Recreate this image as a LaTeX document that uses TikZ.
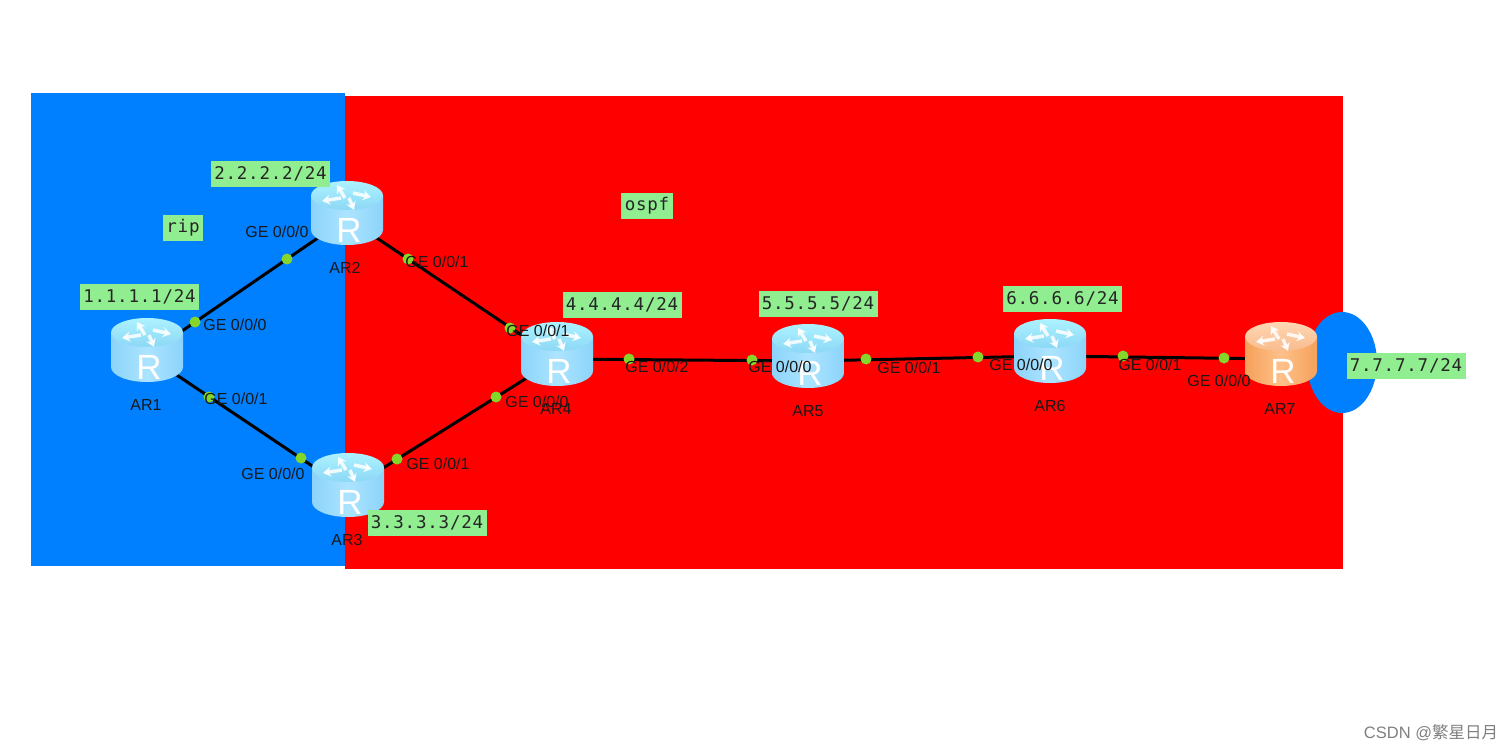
\documentclass[tikz,border=0pt]{standalone}
\usepackage{fontspec}
\setmainfont{Liberation Sans}
\newfontfamily\labelfont[LetterSpace=4.5]{DejaVu Sans Mono}
\newfontfamily\cjkfont{Noto Sans CJK SC}
\usetikzlibrary{arrows.meta}
\definecolor{ripblue}{HTML}{0080FF}
\definecolor{addrgreen}{HTML}{90EE90}
\definecolor{dotgreen}{HTML}{84D62A}
\definecolor{blueside}{HTML}{8CD4FA}
\definecolor{bluemid}{HTML}{ACE4FF}
\definecolor{bluetop}{HTML}{ACF2FF}
\definecolor{bluetopb}{HTML}{8CD8F6}
\definecolor{orangeside}{HTML}{F5A15A}
\definecolor{orangemid}{HTML}{FFC08A}
\definecolor{orangetop}{HTML}{FFD6B4}
\definecolor{orangetopb}{HTML}{F8BC8C}
\tikzset{
  addr/.style={fill=addrgreen,text=black!85,inner sep=0pt,minimum width=119pt,minimum height=26pt,font=\labelfont\fontsize{17.5}{17.5}\selectfont},
  port/.style={fill=dotgreen,circle,inner sep=0pt,minimum size=11pt},
  iface/.style={inner sep=0pt,text=black!90,font=\fontsize{16}{16}\selectfont},
  rname/.style={inner sep=0pt,text=black!90,font=\fontsize{16}{16}\selectfont},
  slot/.style={inner sep=0pt,minimum width=72pt,minimum height=64pt},
  link/.style={draw=black,line width=3pt},
  rarrow/.style={draw=white,opacity=0.85,line width=3.5pt,-{Stealth[length=8pt,width=10pt]}}
}
% icon drawn over the empty slot node: #1 slot, #2 side, #3 middle, #4 top, #5 top shade
\newcommand{\routericon}[5]{
  \begin{scope}[shift={(#1.center)},yshift=5pt]
    \shade[left color=#2,right color=#2,middle color=#3] (-36,-17) -- (-36,17) arc[start angle=180,end angle=0,x radius=36,y radius=15] -- (36,-17) -- cycle;
    \shade[top color=#4,bottom color=#5] (0,-17.5) ellipse[x radius=36,y radius=14.5];
    \draw[rarrow] (-2,-15) -- (-10,-28);
    \draw[rarrow] (6,-20) -- (24,-16);
    \draw[rarrow] (-6,-15) -- (-25,-12);
    \draw[rarrow] (2,-15) -- (7,-3);
    \node[inner sep=0pt,text=white,font=\fontsize{35}{35}\selectfont] at (2,17) {R};
  \end{scope}
}
\begin{document}
\begin{tikzpicture}[x=1pt,y=-1pt]
\useasboundingbox (0,0) rectangle (1511,751);
\fill[white] (0,0) rectangle (1511,751);

% areas
\fill[ripblue] (31,93) rectangle (345,566);
\fill[red] (345,96) rectangle (1343,569);
\fill[ripblue] (1342,362.5) ellipse[x radius=35,y radius=50.5];

\node[slot] (ar1) at (147,355) {};
\node[slot] (ar2) at (347,218) {};
\node[slot] (ar3) at (348,490) {};
\node[slot] (ar4) at (557,359) {};
\node[slot] (ar5) at (808,361) {};
\node[slot] (ar6) at (1050,356) {};
\node[slot] (ar7) at (1281,359) {};

% links
\draw[link] (ar1.center) -- (ar2.center);
\draw[link] (ar1.center) -- (ar3.center);
\draw[link] (ar2.center) -- (ar4.center);
\draw[link] (ar3.center) -- (ar4.center);
\draw[link] (ar4.center) -- (ar5.center);
\draw[link] (ar5.center) -- (ar6.center);
\draw[link] (ar6.center) -- (ar7.center);

\routericon{ar1}{blueside}{bluemid}{bluetop}{bluetopb}
\routericon{ar2}{blueside}{bluemid}{bluetop}{bluetopb}
\routericon{ar3}{blueside}{bluemid}{bluetop}{bluetopb}
\routericon{ar4}{blueside}{bluemid}{bluetop}{bluetopb}
\routericon{ar5}{blueside}{bluemid}{bluetop}{bluetopb}
\routericon{ar6}{blueside}{bluemid}{bluetop}{bluetopb}
\routericon{ar7}{orangeside}{orangemid}{orangetop}{orangetopb}

% ports
\node[port] (p1) at (195,322) {};
\node[port] (p2) at (287,259) {};
\node[port] (p3) at (209,397) {};
\node[port] (p4) at (301,458) {};
\node[port] (p5) at (397,459) {};
\node[port] (p6) at (496,397) {};
\node[port] (p7) at (408,259) {};
\node[port] (p8) at (510,328) {};
\node[port] (p9) at (629,359) {};
\node[port] (p10) at (752,360) {};
\node[port] (p11) at (866,359) {};
\node[port] (p12) at (978,357) {};
\node[port] (p13) at (1123,356) {};
\node[port] (p14) at (1224,358) {};

% interface labels
\node[iface] (i1) at (235,325) {GE 0/0/0};
\node[iface] (i2) at (277,232) {GE 0/0/0};
\node[iface] (i3) at (236,399) {GE 0/0/1};
\node[iface] (i4) at (273,474) {GE 0/0/0};
\node[iface] (i5) at (438,464) {GE 0/0/1};
\node[iface] (i6) at (537,402) {GE 0/0/0};
\node[iface] (i7) at (437,262) {GE 0/0/1};
\node[iface] (i8) at (538,331) {GE 0/0/1};
\node[iface] (i9) at (657,367) {GE 0/0/2};
\node[iface] (i10) at (780,367) {GE 0/0/0};
\node[iface] (i11) at (909,368) {GE 0/0/1};
\node[iface] (i12) at (1021,365) {GE 0/0/0};
\node[iface] (i13) at (1150,365) {GE 0/0/1};
\node[iface] (i14) at (1219,381) {GE 0/0/0};

% router names
\node[rname] (n1) at (146,405) {AR1};
\node[rname] (n2) at (345,268) {AR2};
\node[rname] (n3) at (347,540) {AR3};
\node[rname] (n4) at (556,409) {AR4};
\node[rname] (n5) at (808,411) {AR5};
\node[rname] (n6) at (1050,406) {AR6};
\node[rname] (n7) at (1280,409) {AR7};

% addresses
\node[addr] (a1) at (139.5,297) {1.1.1.1/24};
\node[addr] (a2) at (270.5,174) {2.2.2.2/24};
\node[addr] (a3) at (427,523) {3.3.3.3/24};
\node[addr] (a4) at (622,305) {4.4.4.4/24};
\node[addr] (a5) at (818,304) {5.5.5.5/24};
\node[addr] (a6) at (1062.5,299) {6.6.6.6/24};
\node[addr] (a7) at (1406,366) {7.7.7.7/24};
\node[addr,minimum width=40pt] (rip) at (183,228) {rip};
\node[addr,minimum width=52pt] (ospf) at (647,206) {ospf};

\node[inner sep=0pt,text=black!50,font=\fontsize{16.5}{16.5}\selectfont] (mark) at (1431,733) {CSDN @{\cjkfont 繁星日月}};
\end{tikzpicture}
\end{document}
